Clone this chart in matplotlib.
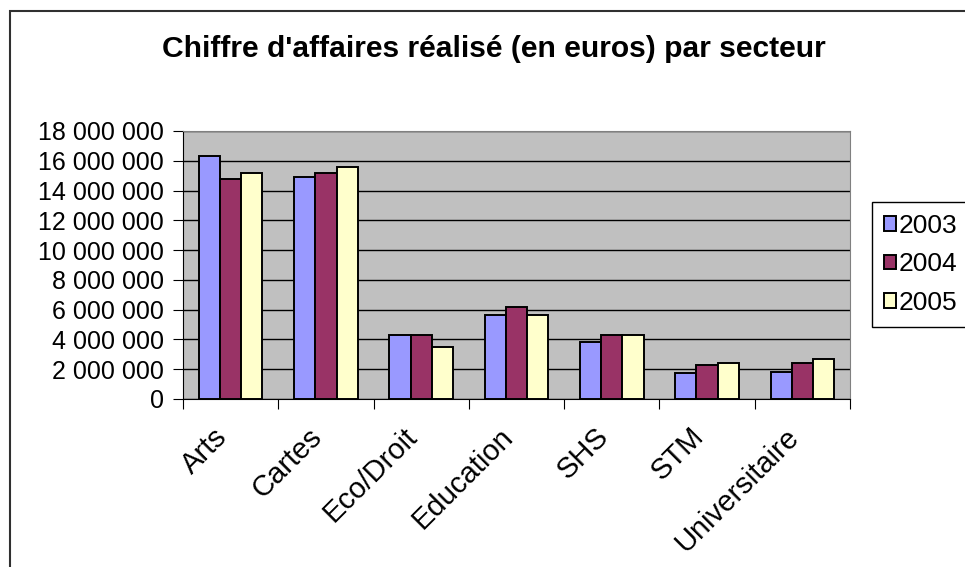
import numpy as np
import matplotlib.pyplot as plt
from matplotlib.patches import Rectangle
from matplotlib.ticker import FixedLocator, FuncFormatter
import matplotlib.transforms as mtransforms

plt.rcParams['font.family'] = ['Liberation Sans', 'DejaVu Sans']

secteurs = ["Arts", "Cartes", "Eco/Droit", "Education", "SHS", "STM", "Universitaire"]
annees = ["2003", "2004", "2005"]
ca_2003 = [16350000, 14900000, 4270000, 5620000, 3850000, 1720000, 1830000]
ca_2004 = [14770000, 15150000, 4270000, 6150000, 4270000, 2260000, 2390000]
ca_2005 = [15150000, 15550000, 3470000, 5620000, 4270000, 2390000, 2660000]
couleurs = ["#9999FF", "#993366", "#FFFFCC"]

fig = plt.figure(figsize=(9.65, 5.67), dpi=100)
fig.patches.append(Rectangle((10/965, -0.1), 1.2, 1 - 11/567 + 0.1, transform=fig.transFigure,
                             fill=False, edgecolor="#303030", linewidth=1.5))

ax = fig.add_axes([183/965, 1 - 399/567, 667/965, 268/567])
ax.set_facecolor("#C0C0C0")

x = np.arange(len(secteurs))
w = 1 / 4.5
for i, (vals, c, lab) in enumerate(zip([ca_2003, ca_2004, ca_2005], couleurs, annees)):
    ax.bar(x + (i - 1) * w, vals, width=w, color=c, edgecolor="black",
           linewidth=1.4, label=lab, zorder=3)

ax.set_xlim(-0.5, len(secteurs) - 0.5)
ax.set_ylim(0, 18000000)
ax.set_yticks(np.arange(0, 18000001, 2000000))
ax.yaxis.set_major_formatter(FuncFormatter(lambda v, p: f"{int(v):,}".replace(",", " ")))
ax.grid(axis="y", color="black", linewidth=1, zorder=1)

# ticks between the categories, labels centred on them
ax.xaxis.set_major_locator(FixedLocator(np.arange(-0.5, len(secteurs))))
ax.xaxis.set_major_formatter(FuncFormatter(lambda v, p: ""))
ax.xaxis.set_minor_locator(FixedLocator(x))
ax.set_xticklabels(secteurs, minor=True, rotation=45, ha="right", va="center",
                   rotation_mode="anchor", fontsize=21)
ax.tick_params(axis="x", which="minor", length=0, pad=24)
ax.tick_params(axis="x", which="major", length=7, direction="out", color="black")
ax.tick_params(axis="y", length=7, direction="out", pad=7, labelsize=18, color="black")
offset = mtransforms.ScaledTranslation(-8/100, 0, fig.dpi_scale_trans)
for t in ax.xaxis.get_minorticklabels():
    t.set_transform(t.get_transform() + offset)

for s in ["top", "right"]:
    ax.spines[s].set_color("#808080")
for s in ["left", "bottom"]:
    ax.spines[s].set_color("black")

fig.text(494/965, 1 - 57/567, "Chiffre d'affaires réalisé (en euros) par secteur",
         ha="center", va="baseline", fontsize=21.6, fontweight="bold")

leg = fig.legend(loc="upper left", bbox_to_anchor=(872/965, 1 - 202/567), fontsize=19,
                 frameon=True, fancybox=False, edgecolor="black", framealpha=1,
                 handlelength=0.45, handleheight=0.45, handletextpad=0.12,
                 labelspacing=0.55, borderpad=0.45, borderaxespad=0)
leg.get_frame().set_linewidth(1)

fig.savefig("out.png", dpi=100)
